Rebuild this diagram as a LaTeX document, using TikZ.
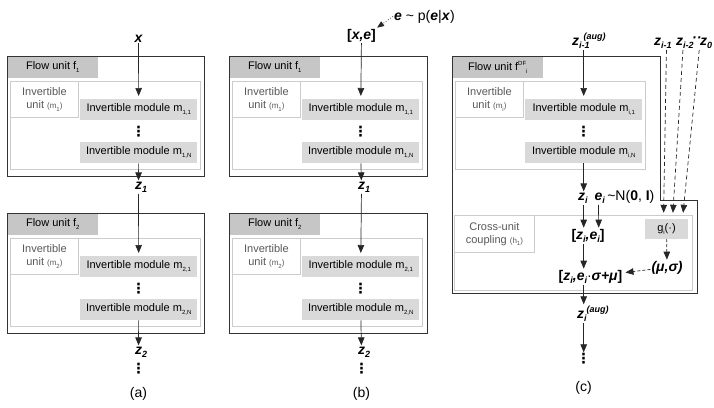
\documentclass[tikz,border=0pt]{standalone}
\usepackage{fontspec}
\setmainfont{Liberation Sans}
\newfontfamily\symfont{DejaVu Sans}
\usetikzlibrary{arrows.meta, positioning}

% small indices
\newcommand{\sbi}[1]{\raisebox{-0.55ex}{\fontsize{6}{6}\selectfont #1}}
\newcommand{\spi}[1]{\raisebox{0.9ex}{\fontsize{6}{6}\selectfont #1}}
\newcommand{\sbv}[1]{\raisebox{-0.5ex}{\fontsize{9}{9}\selectfont #1}}
\newcommand{\spv}[1]{\raisebox{0.8ex}{\fontsize{9}{9}\selectfont #1}}

\tikzset{
  unit frame/.style={
    rectangle, draw=black!80, line width=0.9pt, inner sep=0pt
  },
  unit title/.style={
    rectangle, fill=gray!45, minimum width=90pt, minimum height=21pt,
    inner sep=0pt, text centered
  },
  unit inner/.style={
    rectangle, draw=gray!40, line width=0.8pt, minimum width=190pt,
    minimum height=88pt, inner sep=0pt
  },
  unit label/.style={
    rectangle, draw=gray!40, line width=0.8pt, fill=white,
    minimum width=68pt, minimum height=36pt, inner sep=0pt,
    align=center, text=black!65
  },
  module/.style={
    rectangle, fill=gray!30, minimum width=117pt, minimum height=21pt,
    inner sep=0pt, text centered
  },
  vec/.style={
    font=\fontsize{14}{16}\selectfont\bfseries\itshape, inner sep=1pt
  },
  caption/.style={
    font=\fontsize{14}{16}\selectfont, inner sep=1pt
  },
  vdots/.style={
    font=\symfont\bfseries\fontsize{14}{14}\selectfont, inner sep=0pt
  },
  flow arrow/.style={
    -{Triangle[length=8pt,width=6.5pt]}, line width=0.7pt, draw=black!85
  },
  into box/.style={shorten >=3pt},
  dash arrow/.style={
    flow arrow, dash pattern=on 4pt off 3pt
  }
}

% one flow unit: name, x, y of the frame corner, title, unit index, module index
\newcommand{\flowunit}[6]{%
  \node[unit title, anchor=north west] (#1-t) at (#2+0.6,#3+0.6) {Flow unit #4};
  \node[unit inner, anchor=north west] (#1-in) at (#2+3,#3+25) {};
  \node[unit label, anchor=north west] (#1-u) at (#2+3,#3+25)
    {Invertible\\unit {\fontsize{8}{8}\selectfont(m\sbi{#5})}};
  \node[module, anchor=north west] (#1-m1) at (#2+73,#3+43) {Invertible module m\sbi{#6,1}};
  \node[vdots] (#1-d) at (#2+131.5,#3+76) {⋮};
  \node[module, anchor=north west] (#1-mN) at (#2+73,#3+86) {Invertible module m\sbi{#6,N}};
}

\begin{document}
\begin{tikzpicture}[x=1pt, y=-1pt, font=\fontsize{11}{13}\selectfont]
  \useasboundingbox (0,0) rectangle (714,407);

  % (a)
  \node[unit frame, minimum width=197pt, minimum height=120pt] (a1) at (105.5,116) {};
  \node[unit frame, minimum width=197pt, minimum height=120pt] (a2) at (105.5,273) {};
  \flowunit{a1}{7}{56}{f\sbi{1}}{1}{1}
  \flowunit{a2}{7}{213}{f\sbi{2}}{2}{2}
  \node[vec, anchor=base] (xa) at (138.5,42) {x};
  \node[vec, anchor=base] (za1) at (138.5,189) {z\rlap{\sbv{1}}};
  \node[vec, anchor=base] (za2) at (138.5,354) {z\rlap{\sbv{2}}};
  \node[vdots] (da) at (138.5,369) {⋮};
  \node[caption, anchor=base] (capa) at (138.5,397) {(a)};

  \draw[flow arrow, into box] (xa) -- (a1-m1);
  \draw[flow arrow] (a1-mN) -- (za1);
  \draw[flow arrow, into box] (za1) -- (a2-m1);
  \draw[flow arrow] (a2-mN) -- (za2);

  % (b)
  \node[unit frame, minimum width=198pt, minimum height=120pt] (b1) at (328,116) {};
  \node[unit frame, minimum width=198pt, minimum height=120pt] (b2) at (328,273) {};
  \flowunit{b1}{229}{56}{f\sbi{1}}{1}{1}
  \flowunit{b2}{229}{213}{f\sbi{2}}{2}{2}
  \node[vec, anchor=base] (xe) at (361.5,39) {\textup{[}x,e\textup{]}};
  \node[caption, anchor=base west] (ep) at (393,20)
    {\textbf{\textit{e}} \textasciitilde{} p(\textbf{\textit{e}}|\textbf{\textit{x}})};
  \node[vec, anchor=base] (zb1) at (361.5,189) {z\rlap{\sbv{1}}};
  \node[vec, anchor=base] (zb2) at (361.5,354) {z\rlap{\sbv{2}}};
  \node[vdots] (db) at (361.5,369) {⋮};
  \node[caption, anchor=base] (capb) at (361.5,397) {(b)};

  \draw[flow arrow, dotted, -{Triangle[length=7pt,width=5.5pt]}] (ep.west) -- (xe.north east);
  \draw[flow arrow, into box] (xe) -- (b1-m1);
  \draw[flow arrow] (b1-mN) -- (zb1);
  \draw[flow arrow, into box] (zb1) -- (b2-m1);
  \draw[flow arrow] (b2-mN) -- (zb2);

  % (c)
  \draw[unit frame] (452,56) -- (660,56) -- (660,200) -- (697,200) -- (697,293) -- (452,293) -- cycle;
  \flowunit{c1}{452}{56}{f\spi{DF}\sbi{i}}{i}{i}
  \node[unit inner, minimum width=238pt, minimum height=75pt, anchor=north west] (cu) at (454,215) {};
  \node[unit label, minimum width=80pt, minimum height=37pt, anchor=north west] (cl) at (454,215)
    {Cross-unit\\coupling {\fontsize{8}{8}\selectfont(h\sbi{1})}};
  \node[module, minimum width=43pt, minimum height=20pt] (g) at (666.5,229) {g\sbi{i}(·)};

  \node[vec, anchor=base west] (zin) at (571,45) {z\rlap{\sbv{i-1}}\hspace{4.5pt}\spv{(aug)}};
  \node[vec, anchor=base west] (zim1) at (653,45) {z\sbv{i-1}};
  \node[vec, anchor=base west] (zim2) at (675,45) {z\sbv{i-2}};
  \node[vec, anchor=base west, inner sep=0pt] (zdots) at (692,42) {··};
  \node[vec, anchor=base west] (z0) at (699,45) {z\sbv{0}};

  \node[vec, anchor=base] (zi) at (581.5,200) {z\rlap{\sbv{i}}};
  \node[vec, anchor=base] (ei) at (598.5,200) {e\rlap{\sbv{i}}};
  \node[caption, anchor=base west] (nd) at ([xshift=2.5pt]ei.base east)
    {\textasciitilde N(\textbf{0}, \textbf{I})};
  \node[vec, anchor=base] (zei) at (588,239) {\textup{[}z\sbv{i},e\sbv{i}\textup{]}};
  \node[vec, anchor=base] (zes) at (590.5,280) {\textup{[}z\sbv{i},e\sbv{i}\textup{\mdseries·}σ+μ\textup{]}};
  \node[vec, anchor=base] (ms) at (667,271) {(μ,σ)};
  \node[vec, anchor=base west] (zia) at (576,318) {z\sbv{i}\spv{(aug)}};
  \node[vdots] (dc) at (583.5,359) {⋮};
  \node[caption, anchor=base] (capc) at (583.5,391) {(c)};

  \draw[flow arrow, into box] (zin.south -| c1-m1.north) -- (c1-m1.north);
  \draw[flow arrow] (c1-mN.south) -- (c1-mN.south |- zi.north);
  \draw[flow arrow] (zi.south -| c1-mN) -- (c1-mN |- zei.north);
  \draw[flow arrow] (ei.south) -- ([xshift=-7pt]zei.north east);
  \draw[flow arrow] (zei.south -| c1-mN) -- (c1-mN |- zes.north);
  \draw[flow arrow] (zes.south -| c1-mN) -- (c1-mN |- zia.north);
  \draw[flow arrow] (zia.south -| c1-mN) -- ([yshift=1pt]c1-mN |- dc.north);

  \draw[dash arrow, shorten >=6pt] ([xshift=3.5pt]zim1.south) -- ([xshift=-3pt]g.north);
  \draw[dash arrow, shorten >=6pt] ([xshift=-2pt]zim2.south) -- ([xshift=6pt]g.north);
  \draw[dash arrow, shorten >=6pt] ([xshift=-7pt]z0.south) -- ([xshift=16pt]g.north);
  \draw[dash arrow, dash pattern=on 3pt off 2pt] (g) -- (ms);
  \draw[dash arrow, dash pattern=on 3pt off 2pt, shorten >=2pt] (ms) -- (zes);
\end{tikzpicture}
\end{document}
